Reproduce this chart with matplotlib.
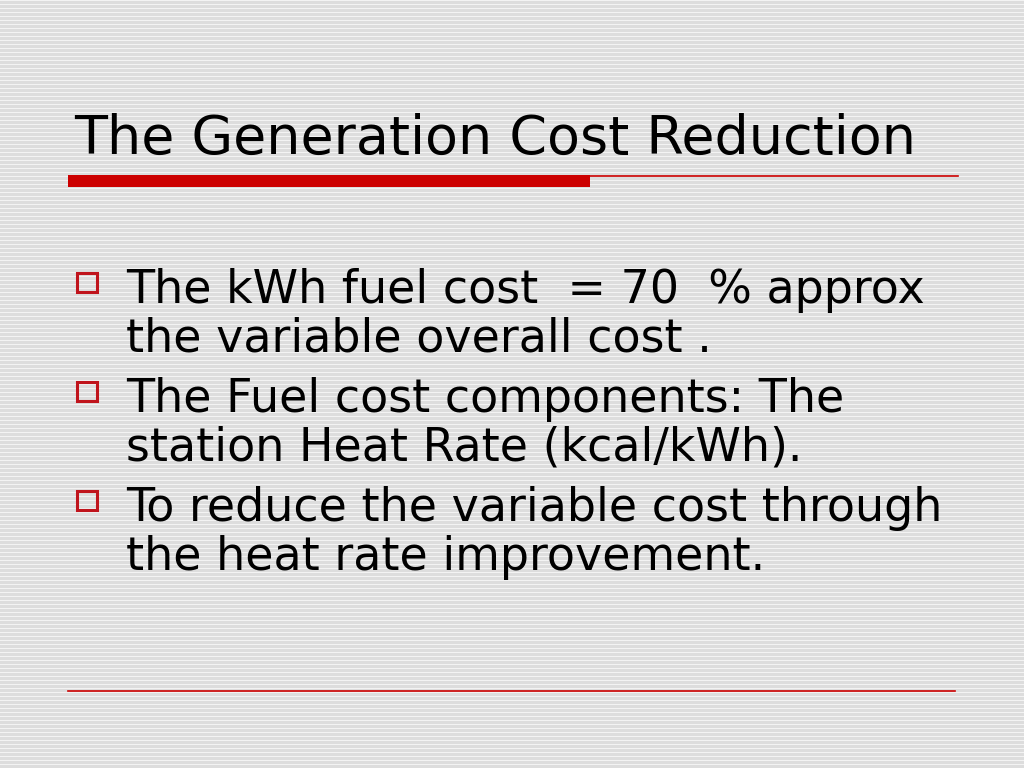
import numpy as np
import matplotlib.pyplot as plt
from matplotlib.patches import Rectangle

title = "The Generation Cost Reduction"
bullets = [
    ["The kWh fuel cost  = 70  % approx", "the variable overall cost ."],
    ["The Fuel cost components: The", "station Heat Rate (kcal/kWh)."],
    ["To reduce the variable cost through", "the heat rate improvement."],
]

red = "#cc0000"
box_red = "#c0141c"

fig = plt.figure(figsize=(10.24, 7.68), dpi=100)
ax = fig.add_axes([0, 0, 1, 1])
ax.set_xlim(0, 1024)
ax.set_ylim(768, 0)
ax.axis("off")

# striped grey background
bg = np.full((768, 1), 0.865)
bg[::4] = 0.955
ax.imshow(bg, cmap="gray", vmin=0, vmax=1, aspect="auto",
          extent=(0, 1024, 768, 0), interpolation="nearest", zorder=0)

# title
ax.text(74, 154, title, fontsize=38.8, color="black", va="baseline", ha="left",
        family="DejaVu Sans")

# red rule under the title
ax.add_patch(Rectangle((68, 175), 522, 12, color=red, lw=0, zorder=2))
ax.plot([590, 958], [175.5, 175.5], color=red, lw=1.2, zorder=2)

# bullets
y = 303
for lines in bullets:
    ax.add_patch(Rectangle((77, y - 30.5), 19.5, 19.5, fill=False, ec=box_red,
                           lw=2.2, zorder=3))
    for line in lines:
        ax.text(126, y, line, fontsize=33.1, color="black", va="baseline",
                ha="left", family="DejaVu Sans")
        y += 48.5
    y += 12

# bottom rule
ax.plot([68, 955], [691, 691], color=red, lw=1.2, zorder=2)

fig.savefig("out.png", dpi=100)
